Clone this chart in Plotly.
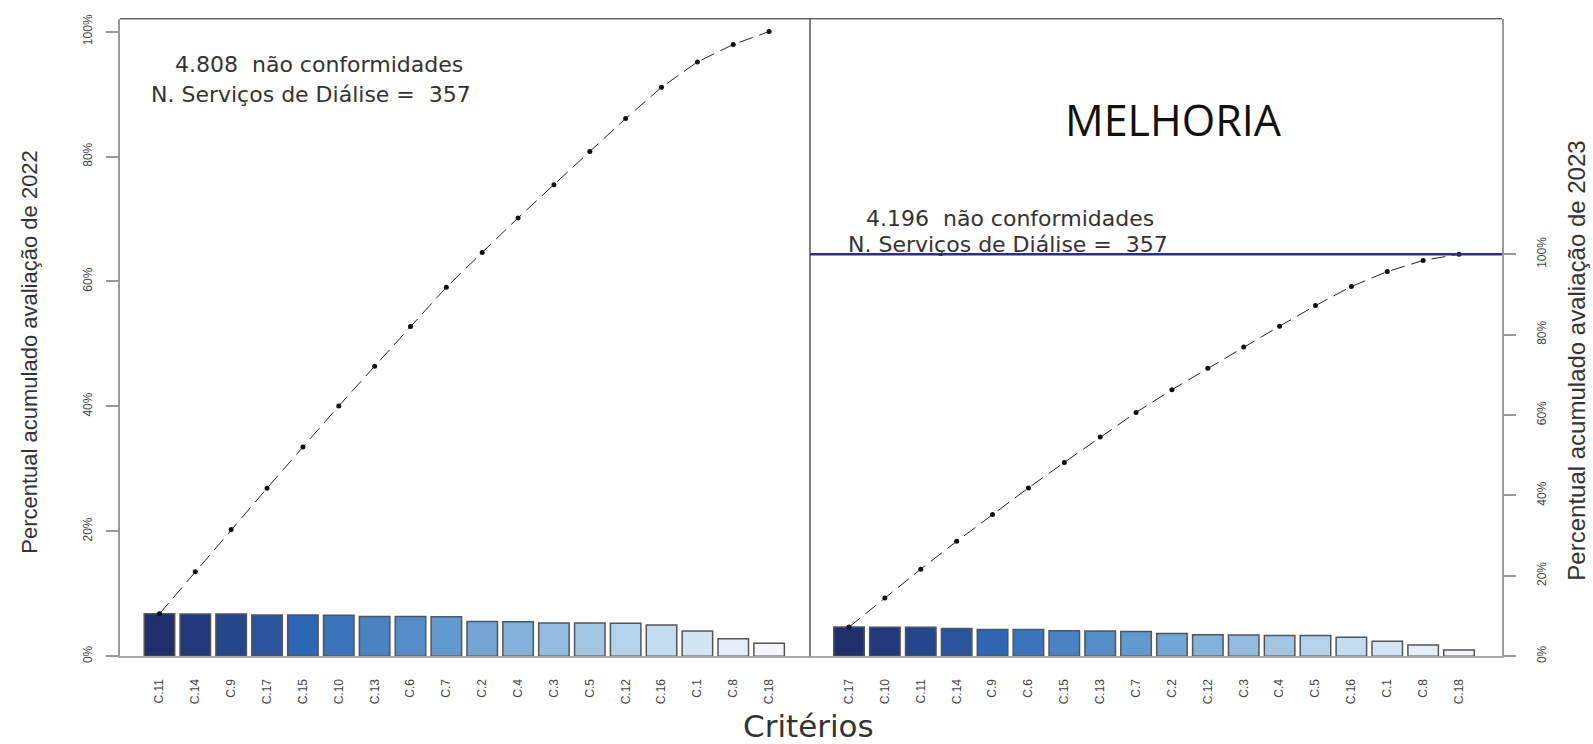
import plotly.graph_objects as go

# ---------------- data ----------------
cats_2022 = ["C.11", "C.14", "C.9", "C.17", "C.15", "C.10", "C.13", "C.6", "C.7",
             "C.2", "C.4", "C.3", "C.5", "C.12", "C.16", "C.1", "C.8", "C.18"]
vals_2022 = [326, 325, 324, 318, 317, 316, 306, 305, 303,
             268, 266, 256, 255, 254, 240, 195, 135, 99]

cats_2023 = ["C.17", "C.10", "C.11", "C.14", "C.9", "C.6", "C.15", "C.13", "C.7",
             "C.2", "C.12", "C.3", "C.4", "C.5", "C.16", "C.1", "C.8", "C.18"]
vals_2023 = [304, 303, 302, 290, 280, 278, 266, 264, 258,
             237, 224, 222, 217, 215, 199, 156, 116, 65]

pct_ticks = [0, 20, 40, 60, 80, 100]
pct_labels = ["0%", "20%", "40%", "60%", "80%", "100%"]

bar_colors = ["#1f2f6b", "#22397c", "#26468b", "#2a559c", "#2d66b2", "#3a74bb",
              "#4a82c2", "#558dc8", "#6299cf", "#73a6d5", "#82b1da", "#92bce0",
              "#a2c7e5", "#b2d2eb", "#c3dcf0", "#d3e5f4", "#e3eef8", "#f3f7fc"]

# --------------- derived ---------------
def pct_and_cum(vals):
    tot = sum(vals)
    p = [v / tot * 100 for v in vals]
    c, s = [], 0.0
    for v in p:
        s += v
        c.append(s)
    return tot, p, c

tot22, p22, c22 = pct_and_cum(vals_2022)
tot23, p23, c23 = pct_and_cum(vals_2023)

W, H = 1593, 744
def px(x): return x / W
def py(y): return 1 - y / H

x_left, x_mid, x_right = 120, 810, 1502
y_top, y_base = 15, 662

lib = "Liberation Sans, Arial, sans-serif"
wide = "DejaVu Sans, Verdana, sans-serif"

fig = go.Figure()

fig.add_trace(go.Bar(x=cats_2022, y=p22, marker=dict(color=bar_colors, line=dict(color="#555555", width=1.5)),
                     xaxis="x", yaxis="y", showlegend=False))
fig.add_trace(go.Scatter(x=cats_2022, y=c22, mode="lines+markers",
                         line=dict(color="#222222", width=1, dash="14px,7px"),
                         marker=dict(color="#111111", size=5),
                         xaxis="x", yaxis="y", showlegend=False))

fig.add_trace(go.Bar(x=cats_2023, y=p23, marker=dict(color=bar_colors, line=dict(color="#555555", width=1.5)),
                     xaxis="x2", yaxis="y2", showlegend=False))
fig.add_trace(go.Scatter(x=cats_2023, y=c23, mode="lines+markers",
                         line=dict(color="#222222", width=1, dash="14px,7px"),
                         marker=dict(color="#111111", size=5),
                         xaxis="x2", yaxis="y2", showlegend=False))

ydom = [py(y_base), py(y_top)]
left_top = (y_base - y_top) / (y_base - 28) * 100
right_top = (y_base - y_top) / (y_base - 254) * 100

xcommon = dict(type="category", showgrid=False, zeroline=False, ticks="",
               tickangle=-90, tickfont=dict(family=lib, size=12, color="#444444"),
               showline=True, linecolor="#a8a8a8", linewidth=2, ticklabelstandoff=16,
               fixedrange=True)

fig.update_layout(
    width=W, height=H, autosize=False,
    margin=dict(l=0, r=0, t=0, b=0),
    paper_bgcolor="white", plot_bgcolor="white",
    bargap=0.15,
    xaxis=dict(domain=[px(x_left), px(x_mid)], anchor="y", range=[-1.1, 18.14],
               categoryorder="array", categoryarray=cats_2022, **xcommon),
    xaxis2=dict(domain=[px(x_mid), px(x_right)], anchor="y2", range=[-1.087, 18.198],
                categoryorder="array", categoryarray=cats_2023, **xcommon),
    yaxis=dict(domain=ydom, anchor="x", range=[0, left_top], tickvals=pct_ticks, ticktext=pct_labels,
               tickangle=-90, ticks="outside", ticklen=12, tickcolor="#999999", tickwidth=1.5,
               ticklabelstandoff=9,
               showline=True, linecolor="#999999", linewidth=2, showgrid=False, zeroline=False,
               tickfont=dict(family=lib, size=12, color="#444444"), fixedrange=True),
    yaxis2=dict(domain=ydom, anchor="x2", side="right", range=[0, right_top], tickvals=pct_ticks,
                ticktext=pct_labels, tickangle=-90, ticks="outside", ticklen=12, tickcolor="#999999",
                tickwidth=1.5, ticklabelstandoff=16,
                showline=True, linecolor="#999999", linewidth=2, showgrid=False,
                zeroline=False, tickfont=dict(family=lib, size=12, color="#444444"), fixedrange=True),
)

# frame lines
fig.add_shape(type="line", xref="paper", yref="paper", x0=px(x_left), x1=px(x_right), y0=py(y_top), y1=py(y_top),
              line=dict(color="#666666", width=1.5))
fig.add_shape(type="line", xref="paper", yref="paper", x0=px(x_mid), x1=px(x_mid), y0=py(y_top), y1=py(y_base),
              line=dict(color="#555555", width=1.5))
# 100% line of 2023 axis
fig.add_shape(type="line", xref="paper", yref="y2", x0=px(x_mid), x1=px(x_right), y0=100, y1=100,
              line=dict(color="#2b2f86", width=2.5))

ann = [
    dict(text=f"{tot22/1000:.3f}  não conformidades", x=px(173), y=py(61), size=22, family=wide, color="#333333", xanchor="left"),
    dict(text="N. Serviços de Diálise =  357", x=px(149), y=py(92), size=22, family=wide, color="#333333", xanchor="left"),
    dict(text=f"{tot23/1000:.3f}  não conformidades", x=px(864), y=py(218), size=22, family=wide, color="#333333", xanchor="left"),
    dict(text="N. Serviços de Diálise =  357", x=px(846), y=py(244), size=22, family=wide, color="#333333", xanchor="left"),
    dict(text="MELHORIA", x=px(1173), y=py(117), size=43, family="Open Sans, Noto Sans, sans-serif", color="#111111", xanchor="center"),
    dict(text="Critérios", x=px(808), y=py(733), size=31, family=wide, color="#333333", xanchor="center"),
]
for a in ann:
    fig.add_annotation(text=a["text"], x=a["x"], y=a["y"], xref="paper", yref="paper",
                       xanchor=a["xanchor"], yanchor="middle", showarrow=False,
                       font=dict(family=a["family"], size=a["size"], color=a["color"]))

fig.add_annotation(text="Percentual acumulado avaliação de 2022", x=px(30), y=py(353), xref="paper", yref="paper",
                   textangle=-90, showarrow=False, xanchor="center", yanchor="middle",
                   font=dict(family=lib, size=22, color="#333333"))
fig.add_annotation(text="Percentual acumulado avaliação de 2023", x=px(1577), y=py(362), xref="paper", yref="paper",
                   textangle=-90, showarrow=False, xanchor="center", yanchor="middle",
                   font=dict(family=lib, size=24, color="#333333"))

fig.write_html("out.html", config={"displayModeBar": False},
               post_script="document.body.style.margin='0';document.body.style.overflow='hidden';")
